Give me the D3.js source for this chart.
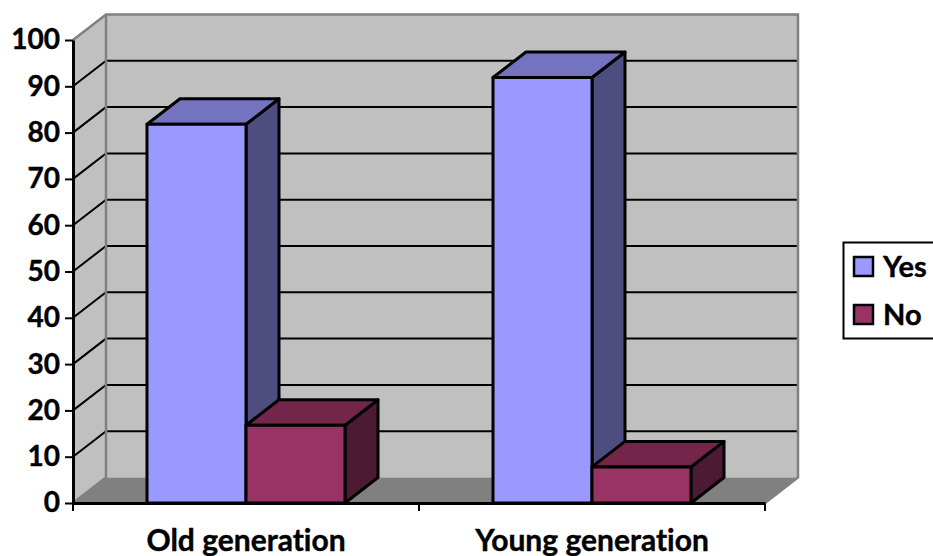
<!DOCTYPE html>
<html lang="en">

<head>
	<meta charset="utf-8">
	<title>Generation chart</title>
	<script src="https://d3js.org/d3.v7.min.js" charset="utf-8"></script>
	<style type="text/css">
		html,
		body {
			margin: 0;
			padding: 0;
			background: #fff;
			overflow: hidden;
		}

		svg {
			display: block;
		}

		text {
			font-family: Lato, sans-serif;
			font-weight: 700;
			fill: #000;
			stroke: #000;
			stroke-width: 0.4px;
			font-variant-ligatures: none;
		}
	</style>
</head>

<body>
	<script type="text/javascript">
		var categories = ["Old generation", "Young generation"];
		var seriesNames = ["Yes", "No"];
		var yesValues = [81.8, 91.9];
		var noValues = [16.8, 7.8];
		var yTicks = [0, 10, 20, 30, 40, 50, 60, 70, 80, 90, 100];

		var w = 933;
		var h = 556;
		var plotLeft = 73, plotRight = 765, plotTop = 40, plotBottom = 503;
		var depthX = 33, depthY = -25.5;

		var colors = {
			Yes: { front: "#9999ff", top: "#7373bf", side: "#4d4d80" },
			No: { front: "#993366", top: "#732649", side: "#4d1a33" }
		};

		var values = { Yes: yesValues, No: noValues };

		var svg = d3.select("body").append("svg")
			.attr("width", w)
			.attr("height", h);

		var y = d3.scaleLinear().domain([0, 100]).range([plotBottom, plotTop]);
		var x0 = d3.scaleBand().domain(categories).range([plotLeft, plotRight]);
		// bars take the middle of each category band
		var x1 = d3.scaleBand().domain(seriesNames).range([74, 272]);

		var poly = (pts) => pts.map((p) => p.join(",")).join(" ");

		// side wall, back wall, floor
		svg.append("polygon")
			.attr("points", poly([[plotLeft, y(0)], [plotLeft, y(100)], [plotLeft + depthX, y(100) + depthY], [plotLeft + depthX, y(0) + depthY]]))
			.attr("fill", "#c0c0c0");
		svg.append("polygon")
			.attr("points", poly([[plotLeft + depthX, y(100) + depthY], [plotRight + depthX, y(100) + depthY], [plotRight + depthX, y(0) + depthY], [plotLeft + depthX, y(0) + depthY]]))
			.attr("fill", "#c0c0c0");
		svg.append("polygon")
			.attr("points", poly([[plotLeft, y(0)], [plotLeft + depthX, y(0) + depthY], [plotRight + depthX, y(0) + depthY], [plotRight, y(0)]]))
			.attr("fill", "#808080");

		// grid lines round the walls
		var grid = yTicks.filter((d) => d > 0 && d < 100);
		svg.append("g").selectAll("polyline")
			.data(grid)
			.enter()
			.append("polyline")
			.attr("points", (d) => poly([[plotLeft, y(d)], [plotLeft + depthX, y(d) + depthY], [plotRight + depthX, y(d) + depthY]]))
			.attr("fill", "none")
			.attr("stroke", "#000")
			.attr("stroke-width", 2);

		// grey outline of the walls
		svg.append("polyline")
			.attr("points", poly([[plotLeft, y(100)], [plotLeft + depthX, y(100) + depthY], [plotRight + depthX, y(100) + depthY], [plotRight + depthX, y(0) + depthY], [plotRight, y(0)]]))
			.attr("fill", "none")
			.attr("stroke", "#808080")
			.attr("stroke-width", 2.5);
		svg.append("polyline")
			.attr("points", poly([[plotLeft, y(0)], [plotLeft + depthX, y(0) + depthY], [plotLeft + depthX, y(100) + depthY]]))
			.attr("fill", "none")
			.attr("stroke", "#808080")
			.attr("stroke-width", 2.5);

		// bars, yes before no so the no box overlaps
		var bars = [];
		categories.forEach(function (c, i) {
			seriesNames.forEach(function (s) {
				bars.push({ cat: c, series: s, value: values[s][i] });
			});
		});

		var bar = svg.append("g").selectAll("g")
			.data(bars)
			.enter()
			.append("g")
			.attr("stroke", "#000")
			.attr("stroke-width", 3)
			.attr("stroke-linejoin", "round");

		var bx = (d) => x0(d.cat) + x1(d.series);
		var bw = x1.bandwidth();

		bar.append("polygon")
			.attr("fill", (d) => colors[d.series].side)
			.attr("points", (d) => poly([[bx(d) + bw, y(d.value)], [bx(d) + bw + depthX, y(d.value) + depthY], [bx(d) + bw + depthX, y(0) + depthY], [bx(d) + bw, y(0)]]));
		bar.append("polygon")
			.attr("fill", (d) => colors[d.series].top)
			.attr("points", (d) => poly([[bx(d), y(d.value)], [bx(d) + depthX, y(d.value) + depthY], [bx(d) + bw + depthX, y(d.value) + depthY], [bx(d) + bw, y(d.value)]]));
		bar.append("rect")
			.attr("fill", (d) => colors[d.series].front)
			.attr("x", bx)
			.attr("y", (d) => y(d.value))
			.attr("width", bw)
			.attr("height", (d) => y(0) - y(d.value));

		// axes
		var axisY = d3.axisLeft(y).tickValues(yTicks).tickSize(8).tickSizeOuter(0).tickPadding(5);
		var gy = svg.append("g")
			.attr("transform", "translate(" + plotLeft + ",0)")
			.call(axisY);

		var axisX = d3.axisBottom(x0).tickSize(0).tickPadding(27);
		var gx = svg.append("g")
			.attr("transform", "translate(0," + plotBottom + ")")
			.call(axisX);

		gx.selectAll(".boundary")
			.data(d3.range(categories.length + 1))
			.enter()
			.append("line")
			.attr("class", "boundary")
			.attr("x1", (d) => plotLeft + d * x0.step())
			.attr("x2", (d) => plotLeft + d * x0.step())
			.attr("y1", 0)
			.attr("y2", 8)
			.attr("stroke", "#000")
			.attr("stroke-width", 2);

		[gy, gx].forEach(function (g) {
			g.attr("font-family", null).attr("font-size", null);
			g.selectAll(".domain")
				.attr("stroke", "#000")
				.attr("stroke-width", 3);
			g.selectAll(".tick line").attr("stroke", "#000").attr("stroke-width", 2);
		});
		gy.selectAll("text").style("font-size", "28px");
		gx.selectAll("text").style("font-size", "30px");

		// legend
		svg.append("rect")
			.attr("x", 843.5)
			.attr("y", 242.5)
			.attr("width", 100)
			.attr("height", 96)
			.attr("fill", "#fff")
			.attr("stroke", "#000")
			.attr("stroke-width", 2);

		var legend = svg.append("g").selectAll("g")
			.data(seriesNames)
			.enter()
			.append("g")
			.attr("transform", (d, i) => "translate(854," + (257 + i * 48) + ")");

		legend.append("rect")
			.attr("width", 19)
			.attr("height", 19)
			.attr("fill", (d) => colors[d].front)
			.attr("stroke", "#000")
			.attr("stroke-width", 2.5);

		legend.append("text")
			.text((d) => d)
			.attr("x", 29)
			.attr("y", 20)
			.style("font-size", "29px");
	</script>
</body>

</html>
